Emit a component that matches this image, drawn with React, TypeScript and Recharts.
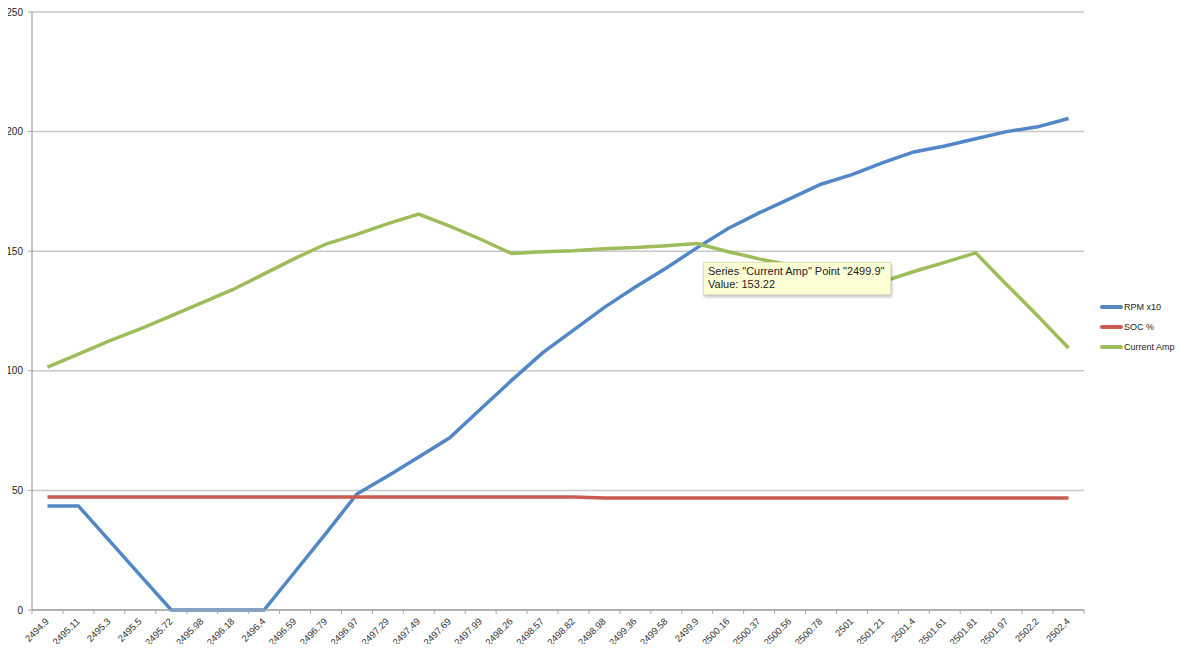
import {
  LineChart,
  Line,
  XAxis,
  YAxis,
  CartesianGrid,
  Tooltip,
  Legend,
} from "recharts";

const times = [
  "2494.9", "2495.11", "2495.3", "2495.5", "2495.72", "2495.98", "2496.18", "2496.4",
  "2496.59", "2496.79", "2496.97", "2497.29", "2497.49", "2497.69", "2497.99", "2498.26",
  "2498.57", "2498.82", "2498.98", "2499.36", "2499.58", "2499.9", "2500.16", "2500.37",
  "2500.56", "2500.78", "2501", "2501.21", "2501.4", "2501.61", "2501.81", "2501.97",
  "2502.2", "2502.4",
];

const rpm = [
  43.5, 43.5, 29, 14.5, 0, 0, 0, 0, 16, 32, 48.5, 56, 64, 72, 84, 96,
  107.5, 117, 126.5, 135, 143, 151.5, 159.5, 166, 172, 178, 182, 187, 191.5, 194, 197, 200,
  202, 205.5,
];

const soc = [
  47.2, 47.2, 47.2, 47.2, 47.2, 47.2, 47.2, 47.2, 47.2, 47.2, 47.2, 47.2, 47.2, 47.2, 47.2, 47.2,
  47.2, 47.2, 46.8, 46.8, 46.8, 46.8, 46.8, 46.8, 46.8, 46.8, 46.8, 46.8, 46.8, 46.8, 46.8, 46.8,
  46.8, 46.8,
];

const currentAmp = [
  101.5, 107, 112.5, 117.5, 123, 128.5, 134, 140.5, 147, 153, 157, 161.5, 165.5, 160.5, 155, 149,
  149.8, 150.2, 151, 151.5, 152.3, 153.22, 149.8, 146.8, 144.2, 141.6, 139.5, 137.3, 141.5, 145.3, 149.3, 136,
  123, 109.5,
];

const yTicks = [0, 50, 100, 150, 200, 250];

const series = [
  { key: "rpm", name: "RPM x10", color: "#5187c6" },
  { key: "soc", name: "SOC %", color: "#cb5a52" },
  { key: "amp", name: "Current Amp", color: "#9dbd5b" },
];

const data = times.map((t, i) => ({
  t,
  rpm: rpm[i],
  soc: soc[i],
  amp: currentAmp[i],
}));

const HALF_BAND = 1052 / times.length / 2;

const XTick = (props: any) => {
  const { x, y, payload, index } = props;
  const tx = x + 2;
  const ty = y + 12;
  return (
    <g>
      <line x1={x - HALF_BAND} y1={y} x2={x - HALF_BAND} y2={y + 4} stroke="#a6a6a6" />
      {index === times.length - 1 && (
        <line x1={x + HALF_BAND} y1={y} x2={x + HALF_BAND} y2={y + 4} stroke="#a6a6a6" />
      )}
      <text
        x={tx}
        y={ty}
        textAnchor="end"
        transform={`rotate(-45, ${tx}, ${ty})`}
        fontSize={9.5}
        fill="#333"
        fontFamily="Liberation Sans, Arial, sans-serif"
      >
        {payload.value}
      </text>
    </g>
  );
};

const LegendBox = () => (
  <div style={{ width: 101, fontFamily: "Liberation Sans, Arial, sans-serif", fontSize: 9, color: "#222" }}>
    {series.map((s) => (
      <div key={s.key} style={{ display: "flex", alignItems: "center", height: 20 }}>
        <div style={{ width: 16 }} />
        <div style={{ width: 23, height: 4, background: s.color, borderRadius: 2 }} />
        <span style={{ marginLeft: 1, whiteSpace: "nowrap" }}>{s.name}</span>
      </div>
    ))}
  </div>
);

const TipBox = ({ payload, label }: any) => {
  const item = (payload || []).find((p: any) => p.dataKey === "amp");
  if (!item) return null;
  return (
    <div
      style={{
        background: "#ffffd6",
        border: "1px solid #e2e2b8",
        boxShadow: "1px 2px 3px rgba(0,0,0,0.25)",
        padding: "2px 6px 3px 4px",
        fontFamily: "Liberation Sans, Arial, sans-serif",
        fontSize: 11,
        lineHeight: "13px",
        color: "#222",
        whiteSpace: "nowrap",
      }}
    >
      <div>{`Series "Current Amp" Point "${label}"`}</div>
      <div>{`Value: ${item.value}`}</div>
    </div>
  );
};

export default function App() {
  return (
    <div style={{ margin: -8, position: "relative", width: 1185, height: 652, background: "#fff" }}>
      <div style={{ position: "absolute", left: 0, top: 0, width: 2, height: 652, background: "#d8d8d8" }} />
      <LineChart
        width={1185}
        height={652}
        data={data}
        margin={{ top: 12, right: 0, left: 0, bottom: 0 }}
      >
        <CartesianGrid vertical={false} stroke="#c8c8c8" strokeWidth={1.5} />
        <XAxis
          dataKey="t"
          scale="band"
          interval={0}
          height={42}
          tickLine={false}
          tickSize={0}
          tickMargin={0}
          tick={<XTick />}
          axisLine={{ stroke: "#a6a6a6", strokeWidth: 1.5 }}
        />
        <YAxis
          width={32}
          domain={[0, 250]}
          ticks={yTicks}
          tickSize={4}
          tickLine={{ stroke: "#a6a6a6" }}
          axisLine={{ stroke: "#8c8c8c" }}
          tick={{ fontSize: 10, fill: "#222", fontFamily: "Liberation Sans, Arial, sans-serif" }}
          tickMargin={5}
        />
        <Tooltip
          defaultIndex={21}
          active={true}
          cursor={false}
          isAnimationActive={false}
          position={{ x: 703, y: 262 }}
          content={<TipBox />}
          wrapperStyle={{ outline: "none" }}
        />
        <Legend
          layout="vertical"
          align="right"
          verticalAlign="middle"
          content={<LegendBox />}
          wrapperStyle={{ top: 297 }}
        />
        {series.map((s) => (
          <Line
            key={s.key}
            type="linear"
            dataKey={s.key}
            name={s.name}
            stroke={s.color}
            strokeWidth={3.5}
            dot={false}
            activeDot={false}
            isAnimationActive={false}
          />
        ))}
      </LineChart>
    </div>
  );
}
